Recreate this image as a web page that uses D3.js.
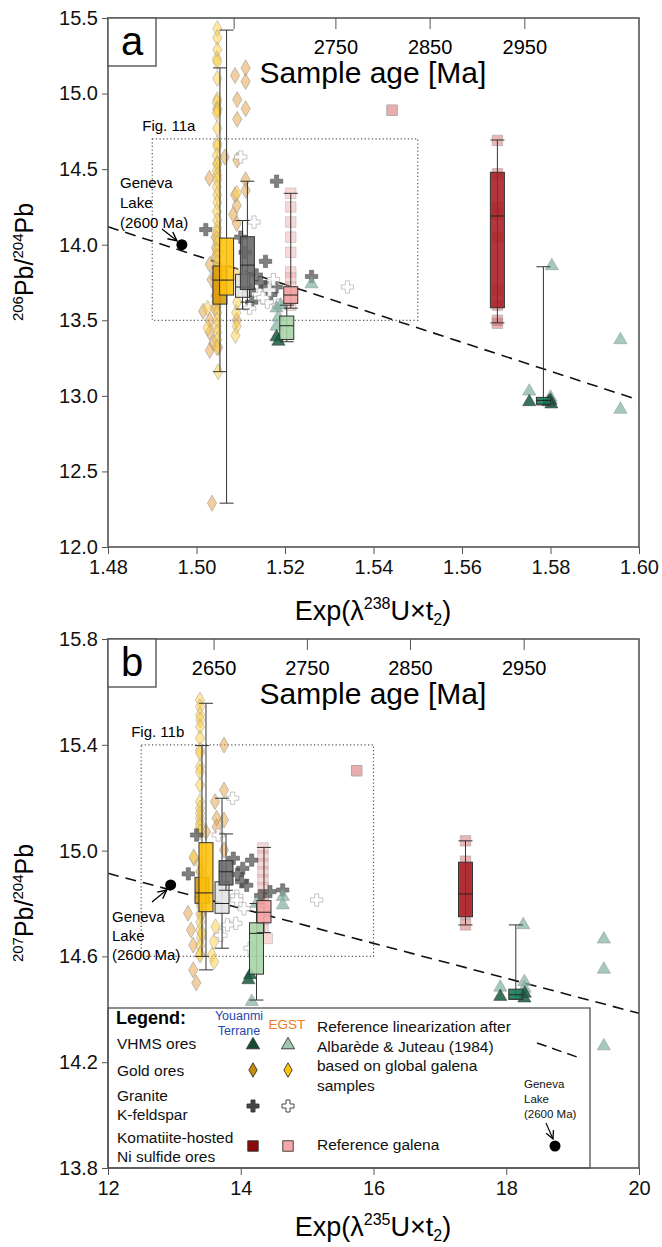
<!DOCTYPE html>
<html>
<head>
<meta charset="utf-8">
<script src="https://cdn.jsdelivr.net/npm/d3@7"></script>
<style>
  body { margin: 0; background: #fff; }
  svg { display: block; font-family: "Liberation Sans", Arial, sans-serif; }
</style>
</head>
<body>
<svg id="chart" width="662" height="1247"></svg>
<script>
// ---------- data ----------
const ageTicks = [2650, 2750, 2850, 2950];
// where the age ticks sit on each panel's lower axis
const ageTickXA = [1.5085, 1.5315, 1.5528, 1.5742];
const ageTickXB = [13.598, 15.004, 16.557, 18.270];
const ticksA = [1.48, 1.50, 1.52, 1.54, 1.56, 1.58, 1.60];
const yTicksA = [12.0, 12.5, 13.0, 13.5, 14.0, 14.5, 15.0, 15.5];
const ticksB = [12, 14, 16, 18, 20];
const yTicksB = [13.8, 14.2, 14.6, 15.0, 15.4, 15.8];

// panel a : 206Pb/204Pb vs exp(l238 t)
const goldYouanmiA = [[1.5087,15.12],[1.5111,15.17],[1.5111,15.08],[1.5092,14.96],[1.5111,14.90],[1.5092,14.83],
  [1.5092,14.56],[1.5111,14.43],[1.5064,14.58],[1.5029,14.44],[1.5087,14.33],[1.5091,14.26],[1.5083,14.20],
  [1.5091,14.14],[1.5111,14.36],[1.5030,13.87],[1.5034,13.77],[1.5015,13.56],[1.5030,13.50],[1.5030,13.42],
  [1.5038,13.35],[1.5049,13.32],[1.5091,13.50],[1.5043,14.05],[1.5044,13.98],[1.5043,13.92],[1.5045,13.85],
  [1.5042,13.78],[1.5044,13.72],[1.5043,13.66],[1.5045,13.62],[1.5041,13.58],[1.5030,13.30],[1.5035,12.29]];
const goldEgstA = [[1.5047,15.43],[1.5047,15.37],[1.5047,15.29],[1.5046,15.23],[1.5047,15.21],[1.5047,15.10],
  [1.5047,14.96],[1.5046,14.94],[1.5047,14.90],[1.5047,14.89],[1.5046,14.87],[1.5047,14.77],[1.5047,14.67],
  [1.5047,14.65],[1.5046,14.59],[1.5047,14.54],[1.5047,14.53],[1.5046,14.49],[1.5047,14.46],[1.5047,14.43],
  [1.5046,14.38],[1.5047,14.33],[1.5047,14.28],[1.5046,14.22],[1.5047,14.16],[1.5047,14.11],[1.5046,14.08],
  [1.5047,14.04],[1.5047,14.01],[1.5046,13.96],[1.5047,13.92],[1.5047,13.88],[1.5046,13.83],[1.5047,13.79],
  [1.5047,13.75],[1.5046,13.70],[1.5047,13.67],[1.5047,13.63],[1.5046,13.59],[1.5047,13.55],[1.5047,13.50],
  [1.5046,13.46],[1.5047,13.42],[1.5047,13.37],[1.5046,13.32],[1.5091,14.34],[1.5090,13.80],[1.5092,13.62],
  [1.5090,13.55],[1.5091,13.46],[1.5088,13.40],[1.5025,13.58],[1.5025,13.45],[1.5049,13.16]];
const graniteYouanmiA = [[1.5021,14.10],[1.5181,14.42],[1.5156,13.89],[1.5168,13.67],[1.5157,13.72],[1.5260,13.79],
  [1.5100,14.05],[1.5135,13.80],[1.5145,13.75],[1.5120,13.70],[1.5180,13.72],[1.5110,13.95],[1.5125,13.62]];
const graniteEgstA = [[1.5130,14.15],[1.5174,13.77],[1.5143,13.67],[1.5341,13.72],[1.5160,13.62],[1.5150,13.65],
  [1.5185,13.60],[1.5105,13.75],[1.5165,13.70],[1.5120,13.58],[1.5100,14.58]];
const niYouanmiA = [[1.5680,14.69],[1.5680,14.47],[1.5680,14.25],[1.5680,14.20],[1.5680,14.05],[1.5680,13.70],
  [1.5680,13.60],[1.5680,13.50],[1.5680,13.48]];
const niEgstA = [[1.5213,14.34],[1.5213,14.25],[1.5213,14.15],[1.5213,14.05],[1.5213,13.95],[1.5213,13.82],
  [1.5213,13.78],[1.5213,13.72],[1.5213,13.68],[1.5213,13.64],[1.5213,13.60]];
const vhmsYouanmiA = [[1.5181,13.39],[1.5185,13.36],[1.5752,12.96],[1.5800,12.97],[1.5802,12.945],[1.5796,12.96]];
const vhmsEgstA = [[1.5181,13.58],[1.5181,13.46],[1.5185,13.52],[1.5752,13.03],[1.5800,12.99],[1.5803,13.86],
  [1.5958,13.37],[1.5958,12.91],[1.5260,13.74],[1.5190,13.60]];
const boxesA = [
  {grp: "goldY",    x: 1.5053, lo: 13.16, q1: 13.607, med: 13.766, q3: 13.859, hi: 15.17},
  {grp: "goldE",    x: 1.5068, lo: 12.29, q1: 13.667, med: 13.766, q3: 14.044, hi: 15.42},
  {grp: "graniteE", x: 1.5104, lo: 13.574, q1: 13.652, med: 13.72, q3: 13.804, hi: 14.16},
  {grp: "graniteY", x: 1.5115, lo: 13.62, q1: 13.704, med: 13.865, q3: 14.053, hi: 14.42},
  {grp: "vhmsE",    x: 1.5204, lo: 13.358, q1: 13.373, med: 13.464, q3: 13.528, hi: 13.60},
  {grp: "niE",      x: 1.5213, lo: 13.58, q1: 13.612, med: 13.667, q3: 13.722, hi: 14.34},
  {grp: "niY",      x: 1.5680, lo: 13.483, q1: 13.583, med: 14.19, q3: 14.479, hi: 14.693},
  {grp: "vhmsY",    x: 1.5784, lo: 12.94, q1: 12.945, med: 12.97, q3: 12.99, hi: 13.854}
];
const refLineA = [[1.48, 14.119], [1.60, 12.972]];
const genevaA = [1.4967, 14.00];
const refGalenaA = [1.5442, 14.89];
const figBoxA = [1.49, 1.55, 13.5, 14.7];

// panel b : 207Pb/204Pb vs exp(l235 t)
const goldYouanmiB = [[13.748,15.399],[13.748,15.229],[13.612,15.185],[13.637,15.122],[13.637,15.09],[13.748,15.116],
  [13.748,15.002],[13.296,14.971],[13.476,15.071],[13.205,14.763],[13.284,14.643],[13.25,14.70],[13.284,14.549],
  [13.33,14.50],[13.40,14.92],[13.40,14.88],[13.42,14.84],[13.40,14.80],[13.41,14.76]];
const goldEgstB = [[13.386,15.569],[13.386,15.544],[13.386,15.513],[13.39,15.494],[13.386,15.468],[13.386,15.425],
  [13.386,15.380],[13.386,15.369],[13.386,15.317],[13.386,15.298],[13.386,15.248],[13.386,15.185],[13.386,15.160],
  [13.386,15.141],[13.386,15.122],[13.386,15.103],[13.386,15.090],[13.386,15.071],[13.29,14.977],[13.39,14.95],
  [13.39,14.92],[13.40,14.88],[13.39,14.85],[13.39,14.82],[13.40,14.79],[13.39,14.76],[13.39,14.73],[13.39,14.70],
  [13.40,14.67],[13.39,14.64],[13.39,14.61],[13.386,14.605],[13.413,14.687],[13.567,14.605],[13.596,14.656],
  [13.62,14.712],[13.60,14.58]];
const graniteYouanmiB = [[13.335,15.059],[13.21,14.912],[13.888,14.971],[14.03,14.933],[14.165,14.964],[14.014,14.882],
  [14.09,14.869],[14.44,14.845],[14.632,14.851],[13.95,14.91],[14.30,14.83]];
const graniteEgstB = [[13.878,15.198],[13.66,15.059],[13.94,14.828],[15.144,14.813],[13.94,14.813],[13.925,14.725],
  [13.80,14.719],[14.14,14.631],[14.05,14.78],[13.70,14.68]];
const niYouanmiB = [[17.386,15.037],[17.386,14.96],[17.386,14.92],[17.386,14.88],[17.386,14.84],[17.386,14.80],
  [17.386,14.76],[17.386,14.719]];
const niEgstB = [[14.335,15.01],[14.335,14.98],[14.335,14.95],[14.335,14.92],[14.335,14.89],[14.335,14.86],
  [14.335,14.83],[14.335,14.80],[14.335,14.77],[14.335,14.74],[14.335,14.71],[14.40,14.668]];
const vhmsYouanmiB = [[14.141,14.530],[14.115,14.511],[17.91,14.448],[18.273,14.442],[18.28,14.46]];
const vhmsEgstB = [[14.634,14.826],[14.634,14.794],[14.165,14.429],[17.91,14.483],[18.274,14.504],[18.274,14.479],
  [19.47,14.665],[19.47,14.551],[19.47,14.261],[18.256,14.719],[14.24,14.80]];
const boxesB = [
  {grp: "goldY",    x: 13.416, lo: 14.60, q1: 14.801, med: 14.84, q3: 14.899, hi: 15.397},
  {grp: "goldE",    x: 13.476, lo: 14.549, q1: 14.769, med: 14.84, q3: 15.030, hi: 15.557},
  {grp: "graniteE", x: 13.718, lo: 14.631, q1: 14.763, med: 14.80, q3: 14.882, hi: 15.198},
  {grp: "graniteY", x: 13.778, lo: 14.85, q1: 14.87, med: 14.92, q3: 14.962, hi: 15.063},
  {grp: "vhmsE",    x: 14.237, lo: 14.435, q1: 14.533, med: 14.687, q3: 14.727, hi: 14.80},
  {grp: "niE",      x: 14.35, lo: 14.69, q1: 14.727, med: 14.767, q3: 14.811, hi: 15.012},
  {grp: "niY",      x: 17.386, lo: 14.719, q1: 14.750, med: 14.836, q3: 14.956, hi: 15.037},
  {grp: "vhmsY",    x: 18.144, lo: 14.438, q1: 14.438, med: 14.455, q3: 14.476, hi: 14.719}
];
const refLineB = [[12, 14.914], [20, 14.385]];
const genevaB = [12.944, 14.870];
const refGalenaB = [15.747, 15.302];
const figBoxB = [12.5, 16.0, 14.6, 15.4];

// ---------- styles ----------
const boxFill = {goldY: "#d99a0a", goldE: "#ffc20a", graniteY: "#666666", graniteE: "#e4e4e4",
  niY: "#a81c22", niE: "#f5a3a3", vhmsY: "#127a56", vhmsE: "#a5d4a5"};

const svg = d3.select("#chart");

const symPath = (type, size) => d3.symbol().type(type).size(size)();

const drawPanel = (cfg) => {
  const x = d3.scaleLinear().domain(cfg.xDomain).range([108, 639]);
  const y = d3.scaleLinear().domain(cfg.yDomain).range([cfg.bottom, cfg.top]);
  const g = svg.append("g");

  // dotted "Fig. 11" frame
  const fb = cfg.figBox;
  g.append("rect")
    .attr("x", x(fb[0])).attr("y", y(fb[3]))
    .attr("width", x(fb[1]) - x(fb[0])).attr("height", y(fb[2]) - y(fb[3]))
    .attr("fill", "none").attr("stroke", "#555").attr("stroke-width", 1.2)
    .attr("stroke-dasharray", "1.2,2.4");
  g.append("text").attr("x", x(fb[0]) - 10).attr("y", y(fb[3]) - 8)
    .attr("font-size", 15).text(cfg.figLabel);

  // reference linearization
  g.append("line")
    .attr("x1", x(cfg.refLine[0][0])).attr("y1", y(cfg.refLine[0][1]))
    .attr("x2", x(cfg.refLine[1][0])).attr("y2", y(cfg.refLine[1][1]))
    .attr("stroke", "#111").attr("stroke-width", 1.6).attr("stroke-dasharray", "11,7");

  const pts = (data, type, size, fill, opacity, stroke) => {
    g.append("g").selectAll("path").data(data).enter().append("path")
      .attr("d", symPath(type, size))
      .attr("transform", d => `translate(${x(d[0])},${y(d[1])})`)
      .attr("fill", fill).attr("fill-opacity", opacity)
      .attr("stroke", stroke).attr("stroke-opacity", 0.6).attr("stroke-width", 0.8);
  };
  pts(cfg.niY, d3.symbolSquare, 110, "#cf5a5a", 0.45, "#999");
  pts(cfg.niE, d3.symbolSquare, 110, "#f6a8a8", 0.45, "#aaa");
  pts(cfg.goldY, d3.symbolDiamond, 74, "#e3a040", 0.5, "#888");
  pts(cfg.goldE, d3.symbolDiamond, 74, "#ffd040", 0.5, "#999");
  pts(cfg.graniteY, d3.symbolCross, 85, "#4a4a4a", 0.7, "#444");
  pts(cfg.graniteE, d3.symbolCross, 85, "#ffffff", 0.9, "#888");
  pts(cfg.vhmsE, d3.symbolTriangle, 75, "#7fb39c", 0.7, "#889");
  pts(cfg.vhmsY, d3.symbolTriangle, 75, "#175a40", 0.85, "#333");

  // box plots
  const bw = 14;
  const bx = g.append("g").selectAll("g").data(cfg.boxes).enter().append("g");
  bx.append("line")
    .attr("x1", d => x(d.x)).attr("x2", d => x(d.x))
    .attr("y1", d => y(d.hi)).attr("y2", d => y(d.lo))
    .attr("stroke", "#333").attr("stroke-width", 1);
  ["hi", "lo"].forEach(k => {
    bx.append("line")
      .attr("x1", d => x(d.x) - bw / 2).attr("x2", d => x(d.x) + bw / 2)
      .attr("y1", d => y(d[k])).attr("y2", d => y(d[k]))
      .attr("stroke", "#333").attr("stroke-width", 1);
  });
  bx.append("rect")
    .attr("x", d => x(d.x) - bw / 2).attr("width", bw)
    .attr("y", d => y(d.q3)).attr("height", d => Math.max(2, y(d.q1) - y(d.q3)))
    .attr("fill", d => boxFill[d.grp]).attr("fill-opacity", 0.88)
    .attr("stroke", "#333").attr("stroke-width", 1);
  bx.append("line")
    .attr("x1", d => x(d.x) - bw / 2).attr("x2", d => x(d.x) + bw / 2)
    .attr("y1", d => y(d.med)).attr("y2", d => y(d.med))
    .attr("stroke", "#222").attr("stroke-width", 1);

  // reference galena sample
  g.append("path").attr("d", symPath(d3.symbolSquare, 110))
    .attr("transform", `translate(${x(cfg.refGalena[0])},${y(cfg.refGalena[1])})`)
    .attr("fill", "#e8a0a0").attr("fill-opacity", 0.85).attr("stroke", "#aaa");

  // Geneva Lake
  const gx = x(cfg.geneva[0]), gy = y(cfg.geneva[1]);
  g.append("circle").attr("cx", gx).attr("cy", gy).attr("r", 5.5).attr("fill", "#000");
  const gl = g.append("text").attr("font-size", 15);
  cfg.genevaText.forEach((t, i) => {
    gl.append("tspan").attr("x", cfg.genevaPos[0]).attr("y", cfg.genevaPos[1] + i * cfg.genevaStep).text(t);
  });
  g.append("line")
    .attr("x1", cfg.arrow[0]).attr("y1", cfg.arrow[1])
    .attr("x2", gx + cfg.arrow[2]).attr("y2", gy + cfg.arrow[3])
    .attr("stroke", "#000").attr("stroke-width", 1.2).attr("marker-end", "url(#arrow)");

  if (cfg.legend) cfg.legend(g);

  // axes
  const bottomAxis = d3.axisBottom(x).tickValues(cfg.xTicks).tickSize(7).tickPadding(6)
    .tickFormat(cfg.xFormat);
  g.append("g").attr("transform", `translate(0,${cfg.bottom})`).call(bottomAxis)
    .call(a => a.selectAll("text").attr("font-size", 20).attr("fill", "#111").attr("font-family", null))
    .call(a => a.select(".domain").remove())
    .call(a => a.selectAll("line").attr("stroke", "#555"));
  const leftAxis = d3.axisLeft(y).tickValues(cfg.yTicks).tickSize(6).tickPadding(4)
    .tickFormat(d3.format(".1f"));
  g.append("g").attr("transform", "translate(108,0)").call(leftAxis)
    .call(a => a.selectAll("text").attr("font-size", 20).attr("fill", "#111").attr("font-family", null))
    .call(a => a.select(".domain").remove())
    .call(a => a.selectAll("line").attr("stroke", "#555"));

  // top age axis (inner ticks), ages placed at their positions on the x scale
  const ageX = (t, i) => x(cfg.ageTickX[i]);
  const top = g.append("g");
  top.selectAll("line").data(ageTicks).enter().append("line")
    .attr("x1", ageX).attr("x2", ageX).attr("y1", cfg.top).attr("y2", cfg.top + 11)
    .attr("stroke", "#555");
  top.selectAll("text").data(ageTicks).enter().append("text")
    .attr("x", ageX).attr("y", cfg.top + 36).attr("text-anchor", "middle")
    .attr("font-size", 20).text(d => cfg.ageLabels.includes(d) ? d : "");
  top.append("text").attr("x", 373).attr("y", cfg.top + 65).attr("text-anchor", "middle")
    .attr("font-size", 30).text("Sample age [Ma]");

  // frame
  g.append("rect").attr("x", 108).attr("y", cfg.top).attr("width", 531)
    .attr("height", cfg.bottom - cfg.top).attr("fill", "none")
    .attr("stroke", "#555").attr("stroke-width", 1.6);

  // panel letter
  g.append("rect").attr("x", 108).attr("y", cfg.top).attr("width", 48).attr("height", 48)
    .attr("fill", "#fff").attr("stroke", "#555").attr("stroke-width", 1.4);
  g.append("text").attr("x", 132).attr("y", cfg.top + 37).attr("text-anchor", "middle")
    .attr("font-size", 40).text(cfg.letter);

  // axis titles
  const xt = g.append("text").attr("x", 373).attr("y", cfg.xTitleY)
    .attr("text-anchor", "middle").attr("font-size", 27);
  xt.append("tspan").text("Exp(λ");
  xt.append("tspan").attr("font-size", 16).attr("dy", -11).text(cfg.iso);
  xt.append("tspan").attr("dy", 11).text("U×t");
  xt.append("tspan").attr("font-size", 16).attr("dy", 5).text("2");
  xt.append("tspan").attr("dy", -5).text(")");

  const yt = g.append("text")
    .attr("transform", `translate(33,${cfg.yTitleY}) rotate(-90)`)
    .attr("text-anchor", "middle").attr("font-size", 25);
  yt.append("tspan").attr("font-size", 15).attr("dy", -10).text(cfg.numer);
  yt.append("tspan").attr("dy", 10).text("Pb/");
  yt.append("tspan").attr("font-size", 15).attr("dy", -10).text("204");
  yt.append("tspan").attr("dy", 10).text("Pb");
};

// arrow marker
svg.append("defs").append("marker").attr("id", "arrow")
  .attr("viewBox", "0 0 10 10").attr("refX", 9).attr("refY", 5)
  .attr("markerWidth", 9).attr("markerHeight", 9).attr("orient", "auto")
  .append("path").attr("d", "M1,1 L9,5 L1,9").attr("fill", "none").attr("stroke", "#000").attr("stroke-width", 1.3);

const legendB = (g) => {
  const lg = g.append("g");
  lg.append("rect").attr("x", 108).attr("y", 1008).attr("width", 482).attr("height", 160)
    .attr("fill", "#fff").attr("stroke", "#444").attr("stroke-width", 1.2);
  lg.append("text").attr("x", 116).attr("y", 1024).attr("font-size", 18).attr("font-weight", "bold").text("Legend:");
  const yt = lg.append("text").attr("text-anchor", "middle").attr("font-size", 12.5).attr("fill", "#2647a8");
  yt.append("tspan").attr("x", 239).attr("y", 1020).text("Youanmi");
  yt.append("tspan").attr("x", 239).attr("y", 1035).text("Terrane");
  lg.append("text").attr("x", 287).attr("y", 1029).attr("text-anchor", "middle").attr("font-size", 13.5)
    .attr("fill", "#f07a22").text("EGST");
  const rows = [
    {lines: ["VHMS ores"], y: 1048.5, sy: 1045, type: d3.symbolTriangle, size: 75, c: ["#124d33", "#9fc7b0"]},
    {lines: ["Gold ores"], y: 1075.5, sy: 1070, type: d3.symbolDiamond, size: 60, c: ["#c98a12", "#ffc20a"]},
    {lines: ["Granite", "K-feldspar"], y: 1100.5, sy: 1106, type: d3.symbolCross, size: 80, c: ["#444", "#fff"]},
    {lines: ["Komatiite-hosted", "Ni sulfide ores"], y: 1142.5, sy: 1146, type: d3.symbolSquare, size: 110, c: ["#8b0a0a", "#f7a7a7"]}
  ];
  rows.forEach(r => {
    const t = lg.append("text").attr("font-size", 15.5).attr("fill", "#111");
    r.lines.forEach((s, i) => t.append("tspan").attr("x", 117).attr("y", r.y + i * 19).text(s));
    [253, 288].forEach((sx, i) => {
      lg.append("path").attr("d", symPath(r.type, r.size))
        .attr("transform", `translate(${sx},${r.sy})`)
        .attr("fill", r.c[i]).attr("stroke", "#333").attr("stroke-width", 0.9);
    });
  });
  const rt = lg.append("text").attr("font-size", 15.5).attr("fill", "#111");
  ["Reference linearization after", "Albarède & Juteau (1984)", "based on global galena", "samples"]
    .forEach((s, i) => rt.append("tspan").attr("x", 317).attr("y", 1032 + i * 19.5).text(s));
  lg.append("line").attr("x1", 537).attr("y1", 1043).attr("x2", 577).attr("y2", 1057)
    .attr("stroke", "#111").attr("stroke-width", 1.5).attr("stroke-dasharray", "10,6");
  lg.append("text").attr("x", 317).attr("y", 1149.5).attr("font-size", 15.5).attr("fill", "#111").text("Reference galena");
  const gt = lg.append("text").attr("font-size", 11.5).attr("fill", "#111");
  ["Geneva", "Lake", "(2600 Ma)"].forEach((s, i) => gt.append("tspan").attr("x", 524).attr("y", 1088 + i * 15).text(s));
  lg.append("line").attr("x1", 546).attr("y1", 1123).attr("x2", 553).attr("y2", 1139)
    .attr("stroke", "#000").attr("stroke-width", 1.1).attr("marker-end", "url(#arrow)");
  lg.append("circle").attr("cx", 555).attr("cy", 1146).attr("r", 5.5).attr("fill", "#000");
};

drawPanel({
  letter: "a", top: 18, bottom: 547, xDomain: [1.48, 1.60], yDomain: [12.0, 15.5],
  xTicks: ticksA, yTicks: yTicksA, xFormat: d3.format(".2f"), ageTickX: ageTickXA,
  ageLabels: [2750, 2850, 2950], iso: "238", numer: "206", yTitleY: 262, xTitleY: 620,
  figBox: figBoxA, figLabel: "Fig. 11a", refLine: refLineA,
  goldY: goldYouanmiA, goldE: goldEgstA, graniteY: graniteYouanmiA, graniteE: graniteEgstA,
  niY: niYouanmiA, niE: niEgstA, vhmsY: vhmsYouanmiA, vhmsE: vhmsEgstA, boxes: boxesA,
  refGalena: refGalenaA, geneva: genevaA, genevaText: ["Geneva", "Lake", "(2600 Ma)"],
  genevaPos: [120, 188], genevaStep: 20, arrow: [162, 229, -5, -4]
});

drawPanel({
  letter: "b", top: 639, bottom: 1168, xDomain: [12, 20], yDomain: [13.8, 15.8],
  xTicks: ticksB, yTicks: yTicksB, xFormat: d3.format("d"), ageTickX: ageTickXB,
  ageLabels: [2650, 2750, 2850, 2950], iso: "235", numer: "207", yTitleY: 903, xTitleY: 1236,
  figBox: figBoxB, figLabel: "Fig. 11b", refLine: refLineB,
  goldY: goldYouanmiB, goldE: goldEgstB, graniteY: graniteYouanmiB, graniteE: graniteEgstB,
  niY: niYouanmiB, niE: niEgstB, vhmsY: vhmsYouanmiB, vhmsE: vhmsEgstB, boxes: boxesB,
  refGalena: refGalenaB, geneva: genevaB, genevaText: ["Geneva", "Lake", "(2600 Ma)"],
  genevaPos: [112, 922], genevaStep: 19, arrow: [152, 902, -4, 5], legend: legendB
});
</script>
</body>
</html>
